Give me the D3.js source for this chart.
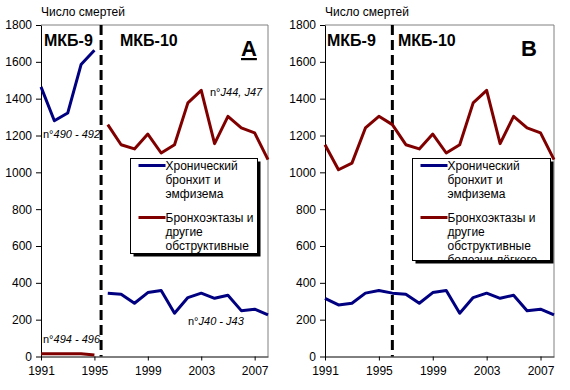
<!DOCTYPE html>
<html>
<head>
<meta charset="utf-8">
<script src="https://cdn.jsdelivr.net/npm/d3@7"></script>
<style>
  body { margin: 0; background: #fff; }
  svg { font-family: "Liberation Sans", Arial, sans-serif; }
</style>
</head>
<body>
<div id="chart"></div>
<script>
// data
var years9  = [1991, 1992, 1993, 1994, 1995];
var years10 = [1996, 1997, 1998, 1999, 2000, 2001, 2002, 2003, 2004, 2005, 2006, 2007, 2008];
var xTicks = [1991, 1995, 1999, 2003, 2007];
var yTicks = [0, 200, 400, 600, 800, 1000, 1200, 1400, 1600, 1800];

// panel A (ICD-9 codes as recorded)
var a9Bronchitis  = [1464, 1280, 1322, 1585, 1663];
var a9Obstructive = [15, 15, 15, 15, 8];
// ICD-10, both panels
var bronchitis10  = [344, 338, 289, 347, 358, 235, 320, 344, 316, 333, 249, 257, 226];
var obstructive10 = [1259, 1150, 1127, 1208, 1105, 1150, 1377, 1445, 1156, 1304, 1241, 1214, 1069];
// panel B (ICD-9 recoded)
var b9Bronchitis  = [316, 280, 289, 344, 358];
var b9Obstructive = [1150, 1014, 1050, 1241, 1304];

var legendItems = [
    {color: "#000080", text: ["Хронический", "бронхит и", "эмфизема"]},
    {color: "#800000", text: ["Бронхоэктазы и", "другие", "обструктивные", "болезни лёгкого"]}
];

var blue = "#000080", red = "#800000";

var svg = d3.select("#chart").append("svg")
    .attr("width", 570)
    .attr("height", 390);

var plotTop = 25, plotBottom = 356.5;
var y = d3.scaleLinear().domain([0, 1800]).range([plotBottom, plotTop]);

function pts(xs, vs) {
    return xs.map(function(d, i) { return {year: d, v: vs[i]}; });
}

function panel(opt) {
    var x = d3.scaleLinear().domain([1991, 2008]).range([opt.left, opt.right]);
    var g = svg.append("g");

    // frame: gray top/right
    g.append("path")
        .attr("d", "M" + opt.left + "," + plotTop + "H" + opt.right + "V" + plotBottom)
        .attr("fill", "none")
        .attr("stroke", "#808080")
        .attr("stroke-width", 1);

    // y axis
    var ya = g.append("g")
        .attr("transform", "translate(" + opt.left + ",0)")
        .call(d3.axisLeft(y).tickValues(yTicks).tickFormat(d3.format("d")).tickSize(5).tickPadding(4).tickSizeOuter(0));
    ya.selectAll("text").style("font-size", "12px").style("font-family", "Liberation Sans, Arial, sans-serif").attr("fill", "#000");

    // x axis
    var xa = g.append("g")
        .attr("transform", "translate(0," + plotBottom + ")")
        .call(d3.axisBottom(x).tickValues(xTicks).tickFormat(d3.format("d")).tickSize(4).tickPadding(6).tickSizeOuter(0));
    xa.selectAll("text").style("font-size", "12px").style("font-family", "Liberation Sans, Arial, sans-serif").attr("fill", "#000");
    xa.select(".tick line").attr("y1", -4);
    ya.select(".domain").attr("stroke", "#000");
    xa.select(".domain").attr("stroke", "#000");

    // ICD boundary
    g.append("line")
        .attr("x1", x(opt.split)).attr("x2", x(opt.split))
        .attr("y1", plotTop).attr("y2", plotBottom)
        .attr("stroke", "#000")
        .attr("stroke-width", 3)
        .attr("stroke-dasharray", "10,5");

    var line = d3.line()
        .x(function(d) { return x(d.year); })
        .y(function(d) { return y(d.v); });

    opt.series.forEach(function(s) {
        g.append("path")
            .datum(s.data)
            .attr("d", line)
            .attr("fill", "none")
            .attr("stroke", s.color)
            .attr("stroke-width", 3)
            .attr("stroke-linejoin", "round");
    });

    g.append("text").attr("x", opt.left).attr("y", 16)
        .style("font-size", "12px").text("Число смертей");
    g.append("text").attr("x", opt.icd9x).attr("y", 46)
        .style("font-size", "16px").style("font-weight", "bold").text("МКБ-9");
    g.append("text").attr("x", opt.icd10x).attr("y", 46)
        .style("font-size", "16px").style("font-weight", "bold").text("МКБ-10");
    g.append("text").attr("x", opt.letterX).attr("y", 56)
        .style("font-size", "22px").style("font-weight", "bold")
        .style("text-decoration", opt.underline ? "underline" : "none")
        .text(opt.letter);

    (opt.notes || []).forEach(function(n) {
        var t = g.append("text").attr("x", n.x).attr("y", n.y).style("font-size", "11px");
        t.append("tspan").text("n°");
        t.append("tspan").style("font-style", "italic").text(n.code);
    });

    // legend
    var lg = g.append("g");
    var L = opt.legend;
    var clipId = "clip" + opt.letter;
    lg.append("clipPath").attr("id", clipId)
        .append("rect").attr("x", L.x).attr("y", L.y).attr("width", L.w).attr("height", L.h);
    lg.append("rect")
        .attr("x", L.x + 3).attr("y", L.y + 3).attr("width", L.w).attr("height", L.h)
        .attr("fill", "#000");
    lg.append("rect")
        .attr("x", L.x).attr("y", L.y).attr("width", L.w).attr("height", L.h)
        .attr("fill", "#fff").attr("stroke", "#000").attr("stroke-width", 1);
    var inner = lg.append("g").attr("clip-path", "url(#" + clipId + ")");
    legendItems.forEach(function(item, i) {
        var yy = L.y + 7 + i * 52;
        inner.append("line")
            .attr("x1", L.x + 8).attr("x2", L.x + 35)
            .attr("y1", yy).attr("y2", yy)
            .attr("stroke", item.color).attr("stroke-width", 3);
        item.text.forEach(function(s, j) {
            inner.append("text")
                .attr("x", L.x + 35).attr("y", yy + j * 14 + 4)
                .style("font-size", "12px").text(s);
        });
    });
}

panel({
    left: 41, right: 268, split: 1995.5,
    letter: "A", letterX: 241, underline: true,
    icd9x: 44, icd10x: 120,
    series: [
        {color: blue, data: pts(years9, a9Bronchitis)},
        {color: red, data: pts(years9, a9Obstructive)},
        {color: blue, data: pts(years10, bronchitis10)},
        {color: red, data: pts(years10, obstructive10)}
    ],
    notes: [
        {x: 210, y: 96, code: "J44, J47"},
        {x: 43, y: 138, code: "490 - 492"},
        {x: 43, y: 343, code: "494 - 496"},
        {x: 188, y: 325, code: "J40 - J43"}
    ],
    legend: {x: 130.5, y: 158.5, w: 127, h: 95}
});

panel({
    left: 325, right: 554, split: 1996,
    letter: "B", letterX: 521, underline: false,
    icd9x: 327, icd10x: 398,
    series: [
        {color: blue, data: pts(years9.concat(years10), b9Bronchitis.concat(bronchitis10))},
        {color: red, data: pts(years9.concat(years10), b9Obstructive.concat(obstructive10))}
    ],
    legend: {x: 412.5, y: 158.5, w: 138, h: 102}
});
</script>
</body>
</html>
